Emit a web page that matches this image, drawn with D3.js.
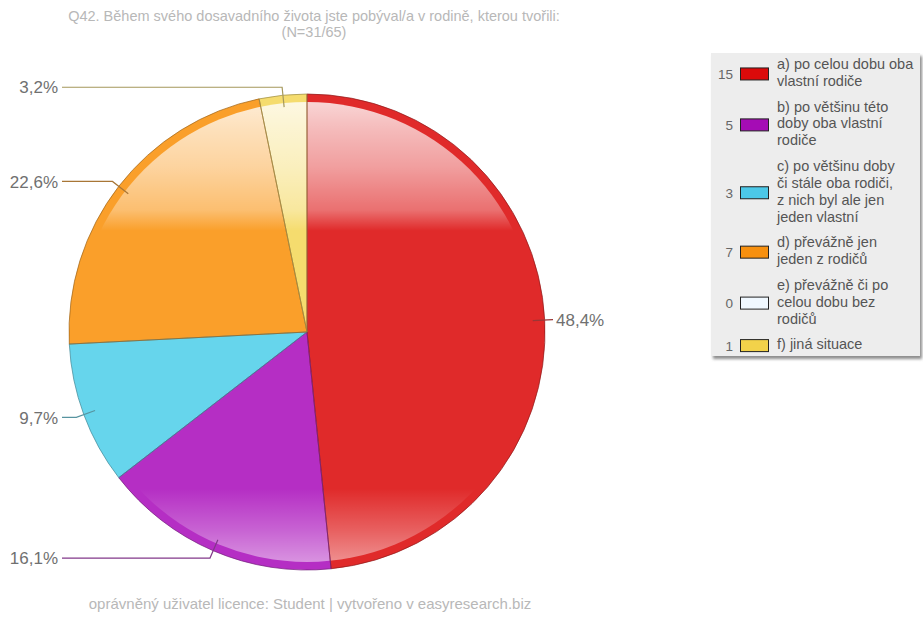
<!DOCTYPE html>
<html>
<head>
<meta charset="utf-8">
<script src="https://cdn.jsdelivr.net/npm/d3@7"></script>
<style>
  html, body { margin: 0; padding: 0; background: #ffffff; }
  svg { display: block; font-family: "Liberation Sans", Arial, sans-serif; }
</style>
</head>
<body>
<svg id="chart" width="923" height="624"></svg>
<script>
// ---- data ----
const titleLines = ["Q42. Během svého dosavadního života jste pobýval/a v rodině, kterou tvořili:", "(N=31/65)"];
const footerText = "oprávněný uživatel licence: Student | vytvořeno v easyresearch.biz";
const categoryLines = [
  ["a) po celou dobu oba", "vlastní rodiče"],
  ["b) po většinu této", "doby oba vlastní", "rodiče"],
  ["c) po většinu doby", "či stále oba rodiči,", "z nich byl ale jen", "jeden vlastní"],
  ["d) převážně jen", "jeden z rodičů"],
  ["e) převážně či po", "celou dobu bez", "rodičů"],
  ["f) jiná situace"]
];
const values = [15, 5, 3, 7, 0, 1];
const sliceColors = ["#e02a2a", "#b52ec4", "#66d5ec", "#fa9f2a", "#f0f8ff", "#f5dc6e"];
const swatchColors = ["#dc0a0a", "#a50cb5", "#4cc8e8", "#f7900f", "#f0f8ff", "#f2d24a"];

// ---- layout ----
const svg = d3.select("#chart");
const cx = 307, cy = 332, R = 238, rim = 8;
const total = d3.sum(values);
const fmt = v => (Math.round(v / total * 1000) / 10).toFixed(1).replace(".", ",") + "%";

// title
svg.append("g").selectAll("text").data(titleLines).join("text")
  .attr("x", 314).attr("y", (d, i) => 21 + i * 16)
  .attr("text-anchor", "middle").attr("font-size", 14.5).attr("fill", "#b8b8b8")
  .text(d => d);

// footer
svg.append("text").attr("x", 310).attr("y", 609).attr("text-anchor", "middle")
  .attr("font-size", 15).attr("fill", "#b8b8b8").text(footerText);

const defs = svg.append("defs");
const gr = R - rim;
const grad = defs.append("linearGradient").attr("id", "gloss")
  .attr("gradientUnits", "userSpaceOnUse")
  .attr("x1", 0).attr("x2", 0).attr("y1", -gr).attr("y2", gr);
[[0, 0.8], [0.06, 0.68], [0.14, 0.55], [0.235, 0.33], [0.28, 0], [0.84, 0], [0.93, 0.25], [1, 0.48]]
  .forEach(([o, a]) => grad.append("stop").attr("offset", o).attr("stop-color", "#fff").attr("stop-opacity", a));

const pie = d3.pie().value(d => d).sort(null).startAngle(0).endAngle(2 * Math.PI);
const arcs = pie(values);
const arcFull = d3.arc().innerRadius(0).outerRadius(R);

const g = svg.append("g").attr("transform", `translate(${cx},${cy})`);
g.selectAll("path.base").data(arcs).join("path").attr("class", "base")
  .attr("d", arcFull).attr("fill", (d, i) => sliceColors[i]);

// gloss overlay on inner circle
g.append("circle").attr("r", gr).attr("fill", "url(#gloss)");

// slice outlines
g.selectAll("path.edge").data(arcs.filter(d => d.value > 0)).join("path").attr("class", "edge")
  .attr("d", arcFull).attr("fill", "none")
  .attr("stroke", d => d3.color(sliceColors[d.index]).darker(1.3))
  .attr("stroke-opacity", 0.7).attr("stroke-width", 1);

// labels with leader lines
const pt = (a, r) => [Math.sin(a) * r, -Math.cos(a) * r];
const lab = g.append("g");
arcs.filter(d => d.value > 0).forEach(d => {
  const mid = (d.startAngle + d.endAngle) / 2;
  const right = Math.sin(mid) > 0;
  const p0 = pt(mid, R - 12), p1 = pt(mid, R + 8);
  const xEnd = right ? 553 - cx : 62 - cx;
  const col = d3.interpolateRgb(sliceColors[d.index], "#444")(0.45);
  lab.append("path")
    .attr("d", d3.line()([p0, p1, [xEnd, p1[1]]]))
    .attr("fill", "none").attr("stroke", col).attr("stroke-width", 1.2);
  lab.append("text")
    .attr("x", right ? xEnd + 3 : xEnd - 4).attr("y", p1[1])
    .attr("dy", "0.36em").attr("text-anchor", right ? "start" : "end")
    .attr("font-size", 17).attr("fill", "#707070").text(fmt(d.value));
});

// legend
const lg = svg.append("g");
const bx = 711, by = 53, bw = 209, bh = 303;
defs.append("filter").attr("id", "shadow").attr("x", -0.1).attr("y", -0.1).attr("width", 1.3).attr("height", 1.3)
  .append("feGaussianBlur").attr("stdDeviation", 1.5);
lg.append("rect").attr("x", bx + 2).attr("y", by + 3).attr("width", bw).attr("height", bh)
  .attr("fill", "#8c8c8c").attr("filter", "url(#shadow)");
lg.append("rect").attr("x", bx).attr("y", by).attr("width", bw).attr("height", bh).attr("fill", "#ededed");

const lineH = 16.9, gap = 8.7;
let yCur = 64;
categoryLines.forEach((lines, i) => {
  const block = lines.length * lineH;
  const midY = yCur + (lines.length - 1) * lineH / 2;
  const item = lg.append("g");
  item.selectAll("text").data(lines).join("text")
    .attr("x", 777).attr("y", (t, j) => yCur + j * lineH).attr("dy", "0.35em")
    .attr("font-size", 14.5).attr("fill", "#555").text(t => t);
  item.append("text").attr("x", 733).attr("y", midY + 2).attr("dy", "0.35em")
    .attr("text-anchor", "end").attr("font-size", 13.5).attr("fill", "#666").text(values[i]);
  item.append("rect").attr("x", 740.5).attr("y", midY - 4.5).attr("width", 28).attr("height", 12)
    .attr("fill", swatchColors[i]).attr("stroke", "#222").attr("stroke-width", 1);
  yCur += block + gap;
});
</script>
</body>
</html>
